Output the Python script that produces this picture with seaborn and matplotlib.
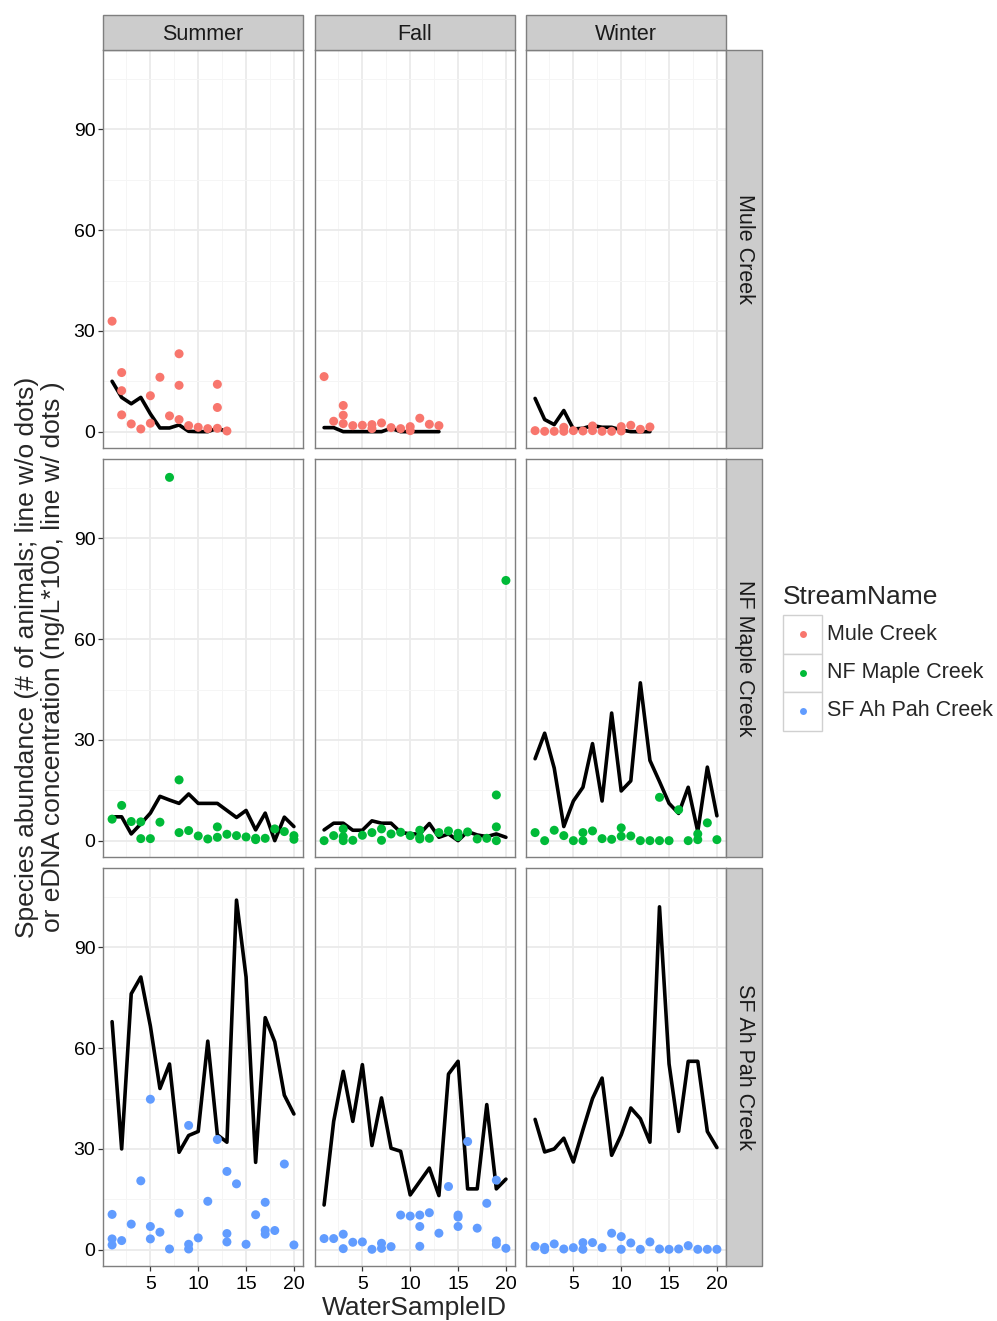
import matplotlib
matplotlib.use("Agg")
import matplotlib.pyplot as plt
import seaborn as sns
import pandas as pd
from matplotlib.patches import Rectangle
from matplotlib.lines import Line2D

# facet levels
seasons = ["Summer", "Fall", "Winter"]
streams = ["Mule Creek", "NF Maple Creek", "SF Ah Pah Creek"]
stream_colors = ["#F8766D", "#00BA38", "#619CFF"]

# species abundance (black line), one value per WaterSampleID starting at 1
mule_summer_line = [15.0, 10.2, 8.3, 10.2, 5.3, 1.1, 1.1, 2.0, 0.1, 0, 0, 1.0, 0]
mule_fall_line = [1.2, 1.2, 0, 0, 0, 0, 0, 1.0, 0, 0, 0, 0, 0]
mule_winter_line = [9.9, 3.6, 2.1, 6.3, 0.8, 1.0, 1.8, 1.3, 1.3, 0.5, 0, 0, 0]
nfmaple_summer_line = [7.1, 7.1, 2.0, 5.0, 8.2, 13.2, 12.1, 11.1, 13.9, 11.1,
                       11.1, 11.1, 9.0, 6.9, 9.0, 3.2, 8.2, 0, 7.0, 4.2]
nfmaple_fall_line = [3.2, 5.2, 5.2, 3.1, 3.1, 5.9, 5.2, 5.2, 2.5, 2.0,
                     2.0, 5.1, 1.0, 2.0, 0, 2.7, 1.7, 1.2, 2.0, 1.0]
nfmaple_winter_line = [24.4, 32.0, 21.6, 4.2, 11.8, 15.9, 28.9, 11.8, 38.0, 14.8,
                       17.8, 47.0, 23.9, 17.6, 11.1, 8.1, 15.9, 2.7, 21.9, 7.4]
sfahpah_summer_line = [67.9, 30.0, 76.2, 81.2, 66.6, 48.0, 55.3, 29.0, 34.0, 35.2,
                       62.1, 34.2, 32.0, 104.1, 81.2, 26.0, 69.1, 61.9, 46.0, 40.4]
sfahpah_fall_line = [13.3, 38.2, 53.1, 38.2, 55.1, 31.0, 45.2, 30.2, 29.3, 16.3,
                     20.3, 24.3, 16.1, 52.3, 56.1, 18.1, 18.1, 43.2, 18.1, 21.0]
sfahpah_winter_line = [38.8, 29.1, 30.0, 33.2, 26.1, 35.7, 45.0, 51.1, 28.1, 34.2,
                       42.2, 39.0, 32.0, 102.1, 55.3, 35.2, 56.1, 56.1, 35.2, 30.4]

# eDNA replicates (dots), one list per WaterSampleID starting at 1
mule_summer_dots = [[32.9], [17.6, 12.2, 5.0], [2.3], [0.8], [10.7, 2.5], [16.2], [4.7],
                    [23.2, 13.8, 3.6], [1.8], [1.3], [0.9], [14.1, 7.2, 1.0], [0.2]]
mule_fall_dots = [[16.4], [3.1], [7.8, 4.9, 2.4], [1.8], [1.9], [2.1, 0.9], [2.6],
                  [1.2], [0.9], [1.5, 0.3], [4.0], [2.2], [1.8]]
mule_winter_dots = [[0.3], [0.1], [0.1], [1.3, 0.1], [0.3], [0.2], [1.7, 0.3],
                    [0.1], [0.1], [1.5, 0.2], [1.9], [0.7], [1.4]]
nfmaple_summer_dots = [[6.4], [10.5], [5.7], [5.6, 0.6], [0.6], [5.5], [108.2],
                       [18.1, 2.4], [3.0], [1.4], [0.5], [4.1, 1.0], [1.9], [1.5],
                       [1.1], [0.7, 0.3], [0.7], [3.5], [2.7], [1.5, 0.4]]
nfmaple_fall_dots = [[0], [1.5], [3.5, 1.2, 0], [0.1], [1.6], [2.4], [3.5, 0.1], [2.0],
                     [2.5], [1.5], [3.1, 1.0, 0.5], [0.7], [2.4], [2.9], [2.2, 1.2],
                     [2.6], [0.5], [0.7], [13.6, 4.1, 0], [77.5]]
nfmaple_winter_dots = [[2.4], [0], [3.1], [1.5], [0], [2.4, 0], [2.9], [0.6], [0.4],
                       [3.8, 1.3], [1.4], [0], [0], [12.9, 0], [0], [9.2], [0],
                       [2.0, 0.3], [5.3], [0.3]]
sfahpah_summer_dots = [[10.5, 3.2, 1.4], [2.7], [7.6], [20.5], [44.8, 6.9, 3.2], [5.2],
                       [0.2], [10.9], [37.0, 1.6, 0.2], [3.5], [14.4], [32.8],
                       [23.3, 4.8, 2.3], [19.6], [1.6], [10.4], [14.1, 5.8, 4.6],
                       [5.7], [25.5], [1.4]]
sfahpah_fall_dots = [[3.3], [3.3], [4.6, 0.3], [2.2], [2.3], [0.1], [1.9, 0.4], [0.9],
                     [10.3], [10.0], [10.3, 6.9, 1.0], [11.0], [4.9], [18.8],
                     [10.3, 9.7, 6.9], [32.2], [6.4], [13.8], [20.7, 2.6, 1.6], [0.4]]
sfahpah_winter_dots = [[1.0], [0.7, 0], [1.7], [0.2], [0.6], [2.1, 0.1], [2.1], [0.6],
                       [4.9], [3.9, 0.1], [2.0], [0.1], [2.3], [0.2], [0.1], [0.2],
                       [1.2], [0.1], [0.1], [0.1]]

line_lists = {
    ("Mule Creek", "Summer"): mule_summer_line,
    ("Mule Creek", "Fall"): mule_fall_line,
    ("Mule Creek", "Winter"): mule_winter_line,
    ("NF Maple Creek", "Summer"): nfmaple_summer_line,
    ("NF Maple Creek", "Fall"): nfmaple_fall_line,
    ("NF Maple Creek", "Winter"): nfmaple_winter_line,
    ("SF Ah Pah Creek", "Summer"): sfahpah_summer_line,
    ("SF Ah Pah Creek", "Fall"): sfahpah_fall_line,
    ("SF Ah Pah Creek", "Winter"): sfahpah_winter_line,
}
dot_lists = {
    ("Mule Creek", "Summer"): mule_summer_dots,
    ("Mule Creek", "Fall"): mule_fall_dots,
    ("Mule Creek", "Winter"): mule_winter_dots,
    ("NF Maple Creek", "Summer"): nfmaple_summer_dots,
    ("NF Maple Creek", "Fall"): nfmaple_fall_dots,
    ("NF Maple Creek", "Winter"): nfmaple_winter_dots,
    ("SF Ah Pah Creek", "Summer"): sfahpah_summer_dots,
    ("SF Ah Pah Creek", "Fall"): sfahpah_fall_dots,
    ("SF Ah Pah Creek", "Winter"): sfahpah_winter_dots,
}

line_rows, dot_rows = [], []
for (stream, season), vals in line_lists.items():
    for i, v in enumerate(vals):
        line_rows.append((stream, season, i + 1, v))
for (stream, season), reps in dot_lists.items():
    for i, vals in enumerate(reps):
        for v in vals:
            dot_rows.append((stream, season, i + 1, v))
cols = ["StreamName", "Season", "WaterSampleID", "value"]
line_df = pd.DataFrame(line_rows, columns=cols)
dot_df = pd.DataFrame(dot_rows, columns=cols)

sns.set_theme(style="white")
plt.rcParams["font.family"] = ["Liberation Sans", "DejaVu Sans"]

W, H = 997, 1321
fig = plt.figure(figsize=(W / 100, H / 100), dpi=100)


def fig_box(x0, y0, w, h):
    return [x0 / W, 1 - (y0 + h) / H, w / W, h / H]


col_left = [103, 315, 526]
col_w = 200
row_top = [50, 459, 868]
row_h = 398
y_min = 0.0
y_max = dot_df["value"].max()
y_pad = (y_max - y_min) * 0.045
border = "#7F7F7F"

for r, stream in enumerate(streams):
    for c, season in enumerate(seasons):
        ax = fig.add_axes(fig_box(col_left[c], row_top[r], col_w, row_h))
        sub_l = line_df[(line_df.StreamName == stream) & (line_df.Season == season)]
        sub_d = dot_df[(dot_df.StreamName == stream) & (dot_df.Season == season)]
        sns.lineplot(data=sub_l, x="WaterSampleID", y="value", color="black",
                     lw=2.6, estimator=None, ax=ax, zorder=3)
        sns.scatterplot(data=sub_d, x="WaterSampleID", y="value", color=stream_colors[r],
                        s=42, edgecolor="none", linewidth=0, ax=ax, zorder=4, legend=False)
        ax.set_xlim(0.05, 20.95)
        ax.set_ylim(y_min - y_pad, y_max + y_pad + 0.6)
        ax.set_xticks([5, 10, 15, 20])
        ax.set_xticks([2.5, 7.5, 12.5, 17.5], minor=True)
        ax.set_yticks([0, 30, 60, 90])
        ax.set_yticks([15, 45, 75, 105], minor=True)
        ax.grid(which="major", color="#EBEBEB", lw=1.3)
        ax.grid(which="minor", color="#F5F5F5", lw=0.7)
        ax.set_axisbelow(True)
        ax.set_xlabel("")
        ax.set_ylabel("")
        for sp in ax.spines.values():
            sp.set_color(border)
            sp.set_linewidth(1.0)
        ax.tick_params(which="minor", length=0)
        ax.tick_params(which="major", length=3.5, width=0.9, color="#333333",
                       labelsize=14, labelcolor="black", pad=2,
                       bottom=(r == 2), labelbottom=(r == 2),
                       left=(c == 0), labelleft=(c == 0))
        ax.tick_params(axis="x", pad=4)

        if r == 0:
            fig.add_artist(Rectangle((col_left[c] / W, 1 - 50 / H), col_w / W, 35 / H,
                                     transform=fig.transFigure, facecolor="#CCCCCC",
                                     edgecolor=border, lw=1.0))
            fig.text((col_left[c] + col_w / 2) / W, 1 - 34 / H, season,
                     ha="center", va="center", fontsize=15.5, color="#1A1A1A")
        if c == 2:
            fig.add_artist(Rectangle((726 / W, 1 - (row_top[r] + row_h) / H), 36 / W, row_h / H,
                                     transform=fig.transFigure, facecolor="#CCCCCC",
                                     edgecolor=border, lw=1.0))
            fig.text(744 / W, 1 - (row_top[r] + row_h / 2) / H, stream, rotation=-90,
                     ha="center", va="center", fontsize=15.5, color="#1A1A1A")

# axis titles
fig.text(40 / W, 1 - 657 / H,
         "Species abundance (# of animals; line w/o dots)\n"
         "or eDNA concentration (ng/L*100, line w/ dots )",
         rotation=90, ha="center", va="center", fontsize=19, linespacing=1.1)
fig.text(414 / W, 1 - 1308 / H, "WaterSampleID", ha="center", va="center", fontsize=19)

# legend
fig.text(783 / W, 1 - 597 / H, "StreamName", ha="left", va="center", fontsize=19)
for i, (name, col) in enumerate(zip(streams, stream_colors)):
    top = 615 + i * 38.5
    fig.add_artist(Rectangle((783 / W, 1 - (top + 38.5) / H), 39 / W, 38.5 / H,
                             transform=fig.transFigure, facecolor="white",
                             edgecolor="#D0D0D0", lw=1.0))
    fig.add_artist(Line2D([802.5 / W], [1 - (top + 19) / H], transform=fig.transFigure,
                          marker="o", markersize=5, color=col, markeredgewidth=0))
    fig.text(827 / W, 1 - (top + 19) / H, name, ha="left", va="center", fontsize=15.5)

fig.savefig("out.png", dpi=100)
